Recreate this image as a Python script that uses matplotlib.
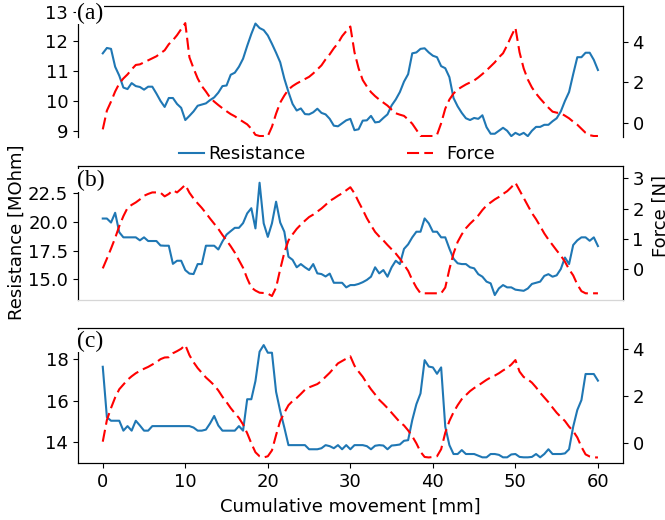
import numpy as np
import matplotlib
matplotlib.use("Agg")
from matplotlib import pyplot as plt
from matplotlib import transforms

# cumulative movement [mm], sampled every 0.5 mm
x = np.arange(0, 60.5, 0.5)

# panel (a)
res_a = [11.6, 11.78, 11.75, 11.15, 10.85, 10.45, 10.4, 10.6, 10.5, 10.47,
         10.38, 10.48, 10.48, 10.25, 10.0, 9.8, 10.1, 10.1, 9.9, 9.77,
         9.36, 9.5, 9.65, 9.84, 9.88, 9.92, 10.03, 10.12, 10.28, 10.5,
         10.52, 10.88, 10.95, 11.15, 11.42, 11.85, 12.25, 12.6, 12.45, 12.38,
         12.2, 11.92, 11.62, 11.3, 10.75, 10.3, 9.9, 9.68, 9.75, 9.56,
         9.55, 9.62, 9.74, 9.6, 9.55, 9.4, 9.17, 9.15, 9.25, 9.35,
         9.4, 9.02, 9.05, 9.34, 9.35, 9.5, 9.28, 9.3, 9.43, 9.55,
         9.85, 10.05, 10.3, 10.65, 10.9, 11.6, 11.63, 11.75, 11.77, 11.63,
         11.52, 11.47, 11.17, 11.1, 10.8, 10.1, 9.82, 9.6, 9.42, 9.36,
         9.43, 9.4, 9.52, 9.12, 8.9, 8.9, 9.0, 9.1, 9.0, 8.82,
         8.93, 8.86, 8.93, 8.82, 9.0, 9.13, 9.13, 9.2, 9.2, 9.32,
         9.42, 9.65, 10.0, 10.3, 10.9, 11.47, 11.47, 11.62, 11.62, 11.38,
         11.04]
force_a = [-0.33, 0.6, 1.05, 1.55, 1.95, 2.2, 2.4, 2.65, 2.87, 2.9,
           3.0, 3.1, 3.2, 3.3, 3.45, 3.6, 3.9, 4.1, 4.35, 4.65,
           4.95, 3.25, 2.7, 2.2, 1.82, 1.55, 1.25, 1.05, 0.88, 0.72,
           0.57, 0.43, 0.32, 0.18, 0.05, -0.08, -0.3, -0.6, -0.66, -0.66,
           -0.66, -0.2, 0.45, 1.0, 1.35, 1.65, 1.82, 1.95, 2.06, 2.17,
           2.28, 2.45, 2.65, 2.85, 3.15, 3.4, 3.7, 3.95, 4.3, 4.55,
           4.78, 3.5, 2.7, 2.12, 1.8, 1.52, 1.32, 1.15, 1.0, 0.85,
           0.65, 0.47, 0.4, 0.34, 0.16, -0.05, -0.35, -0.66, -0.66, -0.66,
           -0.66, -0.6, -0.03, 0.7, 1.15, 1.45, 1.65, 1.78, 1.9, 2.0,
           2.1, 2.25, 2.42, 2.6, 2.8, 3.0, 3.25, 3.45, 3.85, 4.3,
           4.72, 3.5, 2.7, 2.15, 1.75, 1.45, 1.2, 0.97, 0.75, 0.55,
           0.5, 0.47, 0.35, 0.22, 0.05, -0.1, -0.3, -0.5, -0.62, -0.66,
           -0.66]

# panel (b)
res_b = [20.3, 20.3, 19.95, 20.8, 19.1, 18.66, 18.66, 18.66, 18.66, 18.4,
         18.66, 18.34, 18.34, 18.34, 17.95, 17.93, 17.93, 16.35, 16.62, 16.62,
         15.8, 15.5, 15.46, 16.33, 16.33, 17.93, 17.93, 17.93, 17.6, 18.3,
         18.9, 19.2, 19.49, 19.49, 19.9, 20.75, 21.2, 19.44, 23.42, 19.88,
         18.7, 19.88, 21.77, 19.95, 19.15, 16.97, 16.7, 16.05, 16.33, 16.05,
         15.81, 16.33, 15.52, 15.46, 15.25, 15.5, 14.7, 14.7, 14.7, 14.3,
         14.5, 14.5, 14.6, 14.75, 14.95, 15.23, 16.05, 15.52, 15.81, 15.23,
         16.05, 16.62, 16.33, 17.65, 18.05, 18.66, 19.15, 19.15, 20.31, 19.88,
         19.15, 19.15, 18.66, 18.66, 17.68, 16.8, 16.4, 16.33, 16.33, 16.05,
         15.96, 15.45, 15.23, 14.8, 14.65, 13.63, 14.21, 14.5, 14.3, 14.3,
         14.1, 14.05, 14.0, 14.2, 14.6, 14.7, 14.8, 15.3, 15.45, 15.23,
         15.35, 15.9, 16.9, 16.33, 17.99, 18.4, 18.66, 18.66, 18.36, 18.66,
         17.9]
force_b = [0.03, 0.35, 0.68, 1.03, 1.42, 1.75, 2.02, 2.12, 2.2, 2.3,
           2.42, 2.48, 2.53, 2.53, 2.52, 2.4, 2.48, 2.6, 2.53, 2.65,
           2.78, 2.52, 2.33, 2.17, 2.02, 1.85, 1.67, 1.5, 1.33, 1.13,
           0.95, 0.76, 0.55, 0.3, 0.05, -0.3, -0.6, -0.7, -0.77, -0.78,
           -0.8, -0.88, -0.6, 0.0, 0.55, 0.95, 1.15, 1.33, 1.47, 1.6,
           1.72, 1.8, 1.9, 2.0, 2.12, 2.25, 2.33, 2.42, 2.5, 2.6,
           2.7, 2.5, 2.22, 1.96, 1.68, 1.45, 1.23, 1.08, 0.95, 0.8,
           0.66, 0.52, 0.35, 0.15, -0.05, -0.35, -0.6, -0.79, -0.79, -0.79,
           -0.79, -0.79, -0.79, -0.6, 0.0, 0.52, 0.9, 1.15, 1.35, 1.5,
           1.63, 1.77, 1.95, 2.1, 2.2, 2.3, 2.38, 2.48, 2.57, 2.7,
           2.85, 2.6, 2.35, 2.1, 1.85, 1.65, 1.42, 1.18, 0.98, 0.8,
           0.62, 0.45, 0.25, 0.0, -0.2, -0.5, -0.72, -0.79, -0.79, -0.79,
           -0.79]

# panel (c)
res_c = [17.64, 15.2, 15.03, 15.03, 15.03, 14.55, 14.77, 14.55, 15.03, 14.8,
         14.55, 14.55, 14.77, 14.77, 14.77, 14.77, 14.77, 14.77, 14.77, 14.77,
         14.77, 14.77, 14.7, 14.55, 14.55, 14.6, 14.9, 15.26, 14.8, 14.55,
         14.55, 14.55, 14.55, 14.77, 14.55, 16.07, 16.07, 16.95, 18.37, 18.69,
         18.32, 18.32, 16.43, 15.5, 14.7, 13.85, 13.85, 13.85, 13.85, 13.85,
         13.65, 13.65, 13.65, 13.7, 13.85, 13.8, 13.7, 13.85, 13.65, 13.85,
         13.65, 13.85, 13.85, 13.85, 13.8, 13.65, 13.82, 13.85, 13.83, 13.65,
         13.83, 13.85, 13.88, 14.06, 14.09, 15.06, 15.83, 16.35, 17.96, 17.65,
         17.61, 17.3, 17.61, 14.74, 13.85, 13.42, 13.42, 13.61, 13.42, 13.42,
         13.42, 13.34, 13.26, 13.26, 13.42, 13.42, 13.38, 13.26, 13.26, 13.4,
         13.42, 13.28, 13.26, 13.26, 13.28, 13.42, 13.26, 13.42, 13.65, 13.42,
         13.42, 13.42, 13.45, 13.65, 14.74, 15.55, 16.03, 17.29, 17.29, 17.29,
         16.97]
force_c = [0.07, 0.99, 1.5, 1.95, 2.3, 2.5, 2.7, 2.85, 2.98, 3.08,
           3.17, 3.25, 3.35, 3.45, 3.58, 3.65, 3.66, 3.83, 3.92, 4.02,
           4.18, 3.75, 3.45, 3.2, 3.0, 2.8, 2.64, 2.47, 2.25, 1.98,
           1.75, 1.5, 1.28, 1.08, 0.8, 0.43, 0.0, -0.38, -0.55, -0.6,
           -0.55, -0.3, 0.35, 0.95, 1.3, 1.62, 1.8, 1.93, 2.1, 2.28,
           2.38, 2.45, 2.52, 2.65, 2.83, 3.0, 3.2, 3.4, 3.5, 3.6,
           3.7, 3.3, 3.05, 2.83, 2.55, 2.3, 2.08, 1.85, 1.68, 1.5,
           1.3, 1.1, 0.9, 0.76, 0.55, 0.3, 0.0, -0.36, -0.58, -0.6,
           -0.58, -0.55, -0.25, 0.45, 0.95, 1.32, 1.62, 1.88, 2.05, 2.22,
           2.35, 2.46, 2.58, 2.7, 2.8, 2.88, 2.98, 3.1, 3.2, 3.35,
           3.54, 3.05, 2.82, 2.72, 2.58, 2.38, 2.15, 1.95, 1.75, 1.52,
           1.3, 1.12, 0.95, 0.71, 0.52, 0.25, -0.15, -0.47, -0.56, -0.6,
           -0.6]

panels = [
    ("(a)", res_a, force_a, (8.79, 13.19), (-0.71, 5.8), [9, 10, 11, 12, 13], [0, 2, 4]),
    ("(b)", res_b, force_b, (13.2, 24.88), (-1.01, 3.4), [15.0, 17.5, 20.0, 22.5], [0, 1, 2, 3]),
    ("(c)", res_c, force_c, (12.97, 19.5), (-0.85, 4.89), [14, 16, 18], [0, 2, 4]),
]
boxes = [(0.1173, 0.7365, 0.8191, 0.252),
         (0.1173, 0.4231, 0.8191, 0.2577),
         (0.1173, 0.1090, 0.8191, 0.2596)]
# vertical nudge of the panel letters, in points
lab_dy = [2.5, -3.0, -1.5]

plt.rcParams['font.size'] = 13
fig = plt.figure(figsize=(6.65, 5.2), dpi=100)

lines = []
for i, (lab, res, force, ylim1, ylim2, yt1, yt2) in enumerate(panels):
    ax = fig.add_axes(boxes[i])
    ax.plot(x, res, '-', color='tab:blue', lw=1.5, label="Resistance")
    ax.set_xlim(-3, 63)
    ax.set_ylim(*ylim1)
    ax.set_yticks(yt1)
    ax2 = ax.twinx()
    ax2.plot(x, force, color='red', lw=1.5, linestyle=(0, (5.8, 2.5)), label="Force")
    ax2.set_ylim(*ylim2)
    ax2.set_yticks(yt2)
    off = transforms.offset_copy(ax2.transAxes, fig=fig, x=-1.0, y=lab_dy[i], units='points')
    ax2.text(0.0, 1.0, lab, transform=off, ha='left', va='top',
             family='Liberation Serif', fontsize=17, zorder=5,
             bbox=dict(facecolor='white', edgecolor='none', pad=0.5))
    if i < 2:
        ax.set_xticks([])
        for a in (ax, ax2):
            if i == 0:
                a.spines['bottom'].set_visible(False)
            else:
                a.spines['bottom'].set_color('#d6d6d6')
    else:
        ax.set_xticks([0, 10, 20, 30, 40, 50, 60])
        ax.set_xlabel("Cumulative movement [mm]", labelpad=5)
    if i == 0:
        lines = [ax.get_lines()[0], ax2.get_lines()[0]]

fig.legend([lines[0]], ["Resistance"], loc='center left', bbox_to_anchor=(0.269, 0.7038),
           frameon=False, borderpad=0, borderaxespad=0, handlelength=1.4, handletextpad=0.25)
fig.legend([lines[1]], ["Force"], loc='center left', bbox_to_anchor=(0.612, 0.7038),
           frameon=False, borderpad=0, borderaxespad=0, handlelength=1.45, handletextpad=0.7)

fig.text(0.0245, 0.553, "Resistance [MOhm]", rotation=90, ha='center', va='center')
fig.text(0.9805, 0.5837, "Force [N]", rotation=90, ha='left', va='center')

plt.savefig("out.png", dpi=100)
